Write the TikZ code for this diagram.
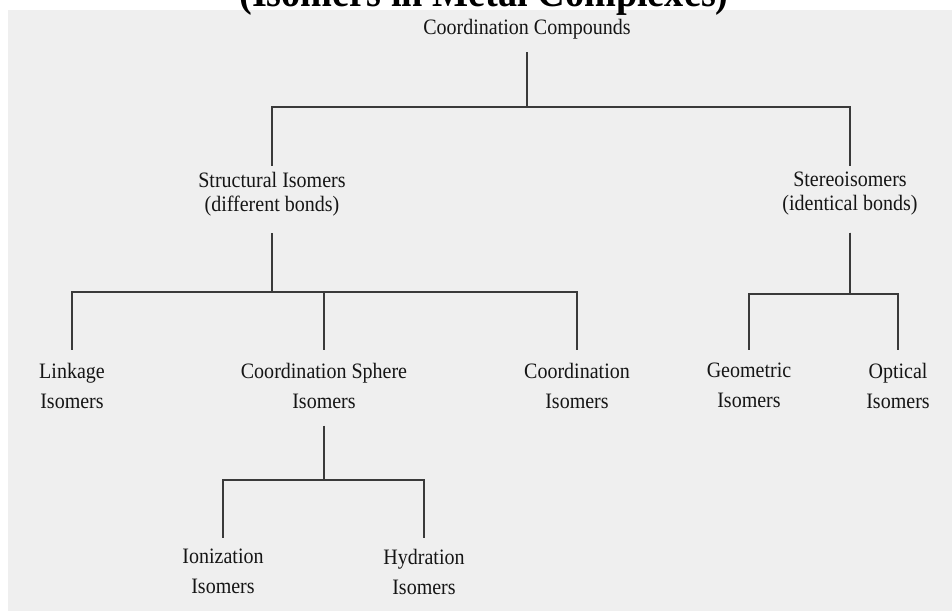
\documentclass[tikz,border=0pt]{standalone}
\usepackage{fontspec}
\setmainfont{Liberation Serif}[FakeStretch=0.91]
\usepackage{xcolor}
\definecolor{panel}{HTML}{EFEFEF}
\definecolor{wire}{HTML}{3A3A3A}
\definecolor{ink}{HTML}{151515}

\begin{document}
\begin{tikzpicture}[x=1pt, y=-1pt,
	kind/.style={inner sep=0pt, anchor=north, align=center, text=ink, font=\fontsize{22}{24}\selectfont},
	leaf/.style={kind, font=\fontsize{22}{30}\selectfont},
	tie/.style={draw=wire, line width=1.2pt}]
		\useasboundingbox (0,0) rectangle (952,611);
		\clip (0,0) rectangle (952,611);
		\fill[panel] (8,10) rectangle (952,611);
		\node[anchor=base, inner sep=0pt, font=\fontsize{42}{42}\selectfont\bfseries] (title) at (484,6) {(Isomers in Metal Complexes)};

		\draw (527,19) node[kind] (cc) {Coordination Compounds}
		(272,172) node[kind] (si) {Structural Isomers\\(different bonds)}
		(850,172) node[kind] (st) {Stereoisomers\\(identical bonds)}
		(72,363) node[leaf] (lk) {Linkage\\Isomers}
		(324,363) node[leaf] (cs) {Coordination Sphere\\Isomers}
		(577,363) node[leaf] (co) {Coordination\\Isomers}
		(749,363) node[leaf] (ge) {Geometric\\Isomers}
		(898,363) node[leaf] (op) {Optical\\Isomers}
		(223,549) node[leaf] (io) {Ionization\\Isomers}
		(424,549) node[leaf] (hy) {Hydration\\Isomers};

		\coordinate (b1) at (0,107);
		\coordinate (b2) at (0,292);
		\coordinate (b3) at (0,294);
		\coordinate (b4) at (0,480);

		\draw[tie, shorten <=13pt, shorten >=6pt] (cc.south) -- (cc.south |- b1) -| (si.north);
		\draw[tie, shorten <=13pt, shorten >=6pt] (cc.south) -- (cc.south |- b1) -| (st.north);
		\draw[tie, shorten <=17pt, shorten >=13pt] (si.south) -- (si.south |- b2) -| (lk.north);
		\draw[tie, shorten <=17pt, shorten >=13pt] (si.south) -- (si.south |- b2) -| (cs.north);
		\draw[tie, shorten <=17pt, shorten >=13pt] (si.south) -- (si.south |- b2) -| (co.north);
		\draw[tie, shorten <=17pt, shorten >=13pt] (st.south) -- (st.south |- b3) -| (ge.north);
		\draw[tie, shorten <=17pt, shorten >=13pt] (st.south) -- (st.south |- b3) -| (op.north);
		\draw[tie, shorten <=17pt, shorten >=11pt] (cs.south) -- (cs.south |- b4) -| (io.north);
		\draw[tie, shorten <=17pt, shorten >=11pt] (cs.south) -- (cs.south |- b4) -| (hy.north);
	\end{tikzpicture}
\end{document}
